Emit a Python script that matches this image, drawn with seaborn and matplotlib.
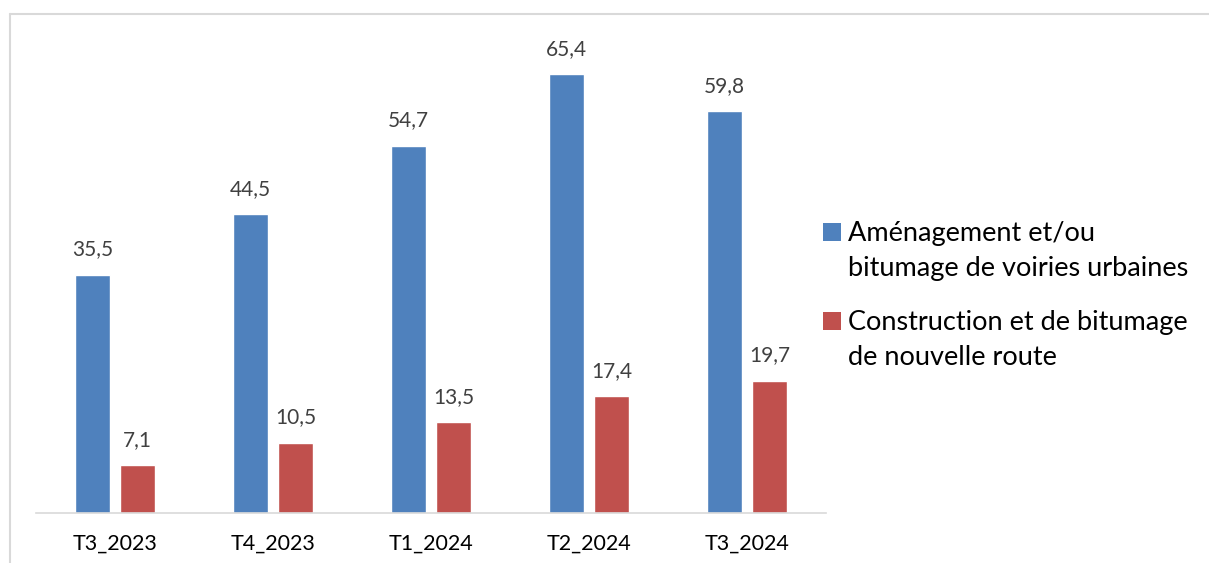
import matplotlib
matplotlib.use("Agg")
import matplotlib.pyplot as plt
from matplotlib.lines import Line2D
from matplotlib.patches import Rectangle
import pandas as pd
import seaborn as sns

# Chart data
quarters = ["T3_2023", "T4_2023", "T1_2024", "T2_2024", "T3_2024"]
voiries_urbaines = [35.5, 44.5, 54.7, 65.4, 59.8]
nouvelle_route = [7.1, 10.5, 13.5, 17.4, 19.7]
series_names = ["Aménagement et/ou\nbitumage de voiries urbaines",
                "Construction et de bitumage\nde nouvelle route"]
colors = ["#4F81BD", "#C0504D"]

df = pd.DataFrame({
    "Trimestre": quarters * 2,
    "Valeur": voiries_urbaines + nouvelle_route,
    "Serie": [series_names[0]] * len(quarters) + [series_names[1]] * len(quarters),
})

sns.set_theme(style="white")
plt.rcParams["font.family"] = ["Lato", "DejaVu Sans"]

W, H = 1209, 563
fig = plt.figure(figsize=(W / 100, H / 100), dpi=100)
ax = fig.add_axes([36 / W, 50 / H, 790 / W, 470 / H])

sns.barplot(data=df, x="Trimestre", y="Valeur", hue="Serie", palette=colors,
            width=0.57, gap=0.22, saturation=1, ax=ax, legend=False)

for cont in ax.containers:
    labels = [f"{v:.1f}".replace(".", ",") for v in cont.datavalues]
    ax.bar_label(cont, labels=labels, padding=11, fontsize=15, color="#404040")

ax.set_ylim(0, 70)
ax.set_xlim(-0.5, 4.5)
ax.set_xlabel("")
ax.set_ylabel("")
ax.set_yticks([])
ax.tick_params(axis="x", length=0, pad=15, labelsize=15.5, labelcolor="#000000")
for side in ["left", "right", "top"]:
    ax.spines[side].set_visible(False)
ax.spines["bottom"].set_color("#D9D9D9")
ax.spines["bottom"].set_linewidth(1.2)

# legend drawn by hand: square next to the first line of each entry
def px(x, y):
    return x / W, 1 - y / H

entry_tops = [223, 312]
for name, color, top in zip(series_names, colors, entry_tops):
    x0, y0 = px(823, top + 18)
    fig.add_artist(Rectangle((x0, y0), 18 / W, 18 / H, transform=fig.transFigure,
                             facecolor=color, edgecolor="none"))
    for i, line in enumerate(name.split("\n")):
        tx, ty = px(848, top + 18 + i * 35)
        fig.text(tx, ty, line, fontsize=19.5, color="#000000", va="baseline", ha="left")

# thin chart-area border (top and left)
fig.add_artist(Line2D([10 / W, 10 / W], [0, 1 - 14 / H], transform=fig.transFigure,
                      color="#D9D9D9", linewidth=1.5))
fig.add_artist(Line2D([10 / W, 1], [1 - 14 / H, 1 - 14 / H], transform=fig.transFigure,
                      color="#D9D9D9", linewidth=1.5))

fig.savefig("out.png", dpi=100, facecolor="white")
